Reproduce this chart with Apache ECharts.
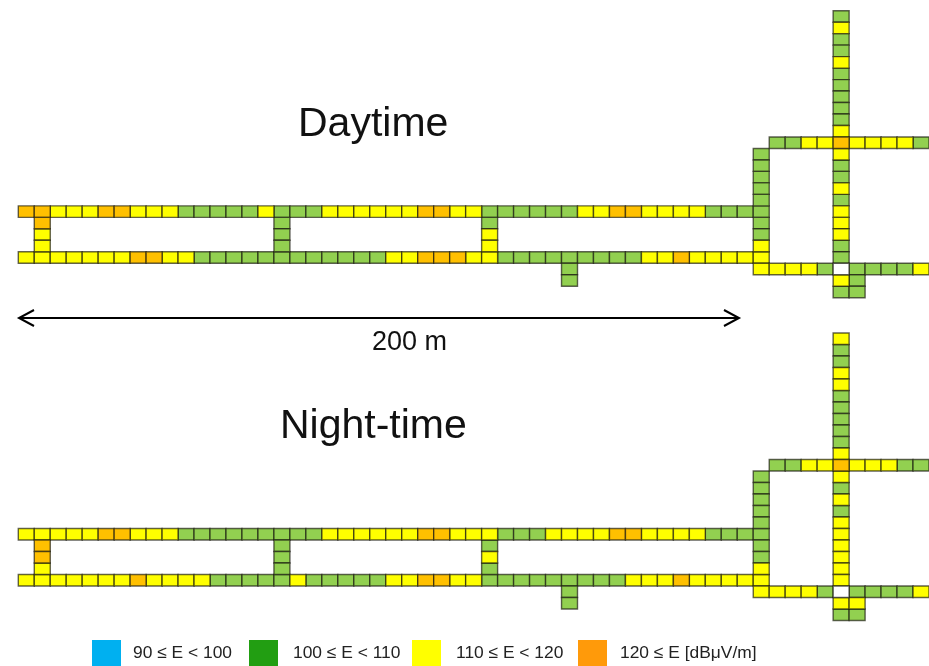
<!DOCTYPE html>
<html>
<head>
<meta charset="utf-8">
<style>html,body{margin:0;padding:0;background:#fff}#c{width:929px;height:666px}</style>
<script src="https://cdn.jsdelivr.net/npm/echarts@6/dist/echarts.min.js"></script>
</head>
<body>
<div id="c"></div>
<script>
// E band read for each cell: G 100-110, Y 110-120, O >=120, W no value
const G = 'G', Y = 'Y', O = 'O', W = 'W';
const bandNames = ['90 ≤ E < 100', '100 ≤ E < 110', '110 ≤ E < 120', '120 ≤ E [dBμV/m]'];
const bandKeys = ['B', G, Y, O];
const cellColors = ['#00B0F0', '#92D050', '#FFFF00', '#FFC000'];
const legendColors = ['#00B0F0', '#229E12', '#FFFF00', '#FF9A0A'];

const dayUpperRoad = [O,O,Y,Y,Y,O,O,Y,Y,Y,G,G,G,G,G,Y,G,G,G,Y,Y,Y,Y,Y,Y,O,O,Y,Y,G,G,G,G,G,G,Y,Y,O,O,Y,Y,Y,Y,G,G,G,G];
const dayLowerRoad = [Y,Y,Y,Y,Y,Y,Y,O,O,Y,Y,G,G,G,G,G,G,G,G,G,G,G,G,Y,Y,O,O,O,Y,Y,G,G,G,G,G,G,G,G,G,Y,Y,O,Y,Y,Y,Y,Y];
const dayLinkA = [O,Y,Y];
const dayLinkB = [G,G,G];
const dayLinkC = [G,Y,Y];
const dayStub = [G,G];
const dayRiser = [G,G,G,G,G,G,G,G,Y,Y,Y];
const dayTower = [G,Y,G,G,Y,G,G,G,G,G,Y,O,Y,G,G,Y,G,Y,Y,Y,G,G,W,Y,G];
const dayTowerSide = [G,G,G];
const dayNorthRoad = [G,G,Y,Y,O,Y,Y,Y,Y,G];
const daySouthRoad = [Y,Y,Y,Y,G,W,G,G,G,G,Y];

const nightUpperRoad = [Y,Y,Y,Y,Y,O,O,Y,Y,Y,G,G,G,G,G,G,G,G,G,Y,Y,Y,Y,Y,Y,O,O,Y,Y,Y,G,G,G,Y,Y,Y,Y,O,O,Y,Y,Y,Y,G,G,G,G];
const nightLowerRoad = [Y,Y,Y,Y,Y,Y,Y,O,Y,Y,Y,Y,G,G,G,G,G,Y,G,G,G,G,G,Y,Y,O,O,Y,Y,G,G,G,G,G,G,G,G,G,Y,Y,Y,O,Y,Y,Y,Y,Y];
const nightLinkA = [O,O,Y];
const nightLinkB = [G,G,G];
const nightLinkC = [G,Y,G];
const nightStub = [G,G];
const nightRiser = [G,G,G,G,G,G,G,G,Y,Y,Y];
const nightTower = [Y,G,G,Y,Y,G,G,G,G,G,Y,O,Y,G,Y,G,Y,Y,Y,Y,Y,Y,W,Y,G];
const nightTowerSide = [G,Y,G];
const nightNorthRoad = [G,G,Y,Y,O,Y,Y,Y,G,G];
const nightSouthRoad = [Y,Y,Y,Y,G,W,G,G,G,G,Y];

const COLS = 57, ROWS = 25;

function buildCells(parts) {
  const m = new Map();
  parts.forEach(([vals, c, r, dc, dr]) => vals.forEach((v, i) => m.set((c + i * dc) + '_' + (r + i * dr), [c + i * dc, r + i * dr, v])));
  return Array.from(m.values());
}
const dayCells = buildCells([
  [dayUpperRoad,0,17,1,0],[dayLowerRoad,0,21,1,0],[dayLinkA,1,18,0,1],[dayLinkB,16,18,0,1],[dayLinkC,29,18,0,1],
  [dayStub,34,22,0,1],[dayRiser,46,12,0,1],[dayTower,51,0,0,1],[dayTowerSide,52,22,0,1],[dayNorthRoad,47,11,1,0],[daySouthRoad,46,22,1,0]
]);
const nightCells = buildCells([
  [nightUpperRoad,0,17,1,0],[nightLowerRoad,0,21,1,0],[nightLinkA,1,18,0,1],[nightLinkB,16,18,0,1],[nightLinkC,29,18,0,1],
  [nightStub,34,22,0,1],[nightRiser,46,12,0,1],[nightTower,51,0,0,1],[nightTowerSide,52,22,0,1],[nightNorthRoad,47,11,1,0],[nightSouthRoad,46,22,1,0]
]);

function cellItem(params, api) {
  const p = api.coord([api.value(0), api.value(1)]);
  const s = api.size([1, 1]);
  return { type: 'rect', shape: { x: p[0] - s[0] / 2, y: p[1] - s[1] / 2, width: s[0], height: s[1] }, style: api.style() };
}
function cellSeries(name, color, grid, cells, key) {
  return {
    type: 'custom', name, coordinateSystem: 'cartesian2d', xAxisIndex: grid, yAxisIndex: grid,
    renderItem: cellItem, silent: true, animation: false, clip: false,
    itemStyle: { color, borderColor: 'rgba(25,25,15,0.68)', borderWidth: 1.4 },
    data: cells.filter(c => c[2] === key).map(c => [c[0], c[1]])
  };
}
const series = [];
[dayCells, nightCells].forEach((cells, g) => {
  bandKeys.forEach((k, i) => series.push(cellSeries(bandNames[i], cellColors[i], g, cells, k)));
  series.push(cellSeries('no value', '#FFFFFF', g, cells, W));
});

const colLabels = Array.from({ length: COLS }, (_, i) => String(i));
const rowLabels = Array.from({ length: ROWS }, (_, i) => String(i));
const hiddenX = g => ({ type: 'category', gridIndex: g, data: colLabels, show: false });
const hiddenY = g => ({ type: 'category', gridIndex: g, data: rowLabels, inverse: true, show: false });
const titleStyle = size => ({ fontFamily: 'Liberation Sans', fontWeight: 'normal', fontSize: size, color: '#111' });
const legendLeft = [92, 249, 412, 578];
const legendTextGap = [7, 10, 10, 8];

const chart = echarts.init(document.getElementById('c'), null, { renderer: 'canvas' });
chart.setOption({
  animation: false,
  backgroundColor: '#fff',
  title: [
    { text: 'Daytime', left: 298, top: 104, padding: 0, textStyle: titleStyle(41) },
    { text: 'Night-time', left: 280, top: 406, padding: 0, textStyle: titleStyle(41) },
    { text: '200 m', left: 372, top: 329, padding: 0, textStyle: titleStyle(27) }
  ],
  grid: [
    { left: 18.3, top: 10.7, width: COLS * 16, height: ROWS * 11.48 },
    { left: 18.3, top: 333, width: COLS * 16, height: ROWS * 11.5 }
  ],
  xAxis: [hiddenX(0), hiddenX(1)],
  yAxis: [hiddenY(0), hiddenY(1)],
  legend: bandNames.map((n, i) => ({
    left: legendLeft[i], top: 640, padding: 0, itemWidth: 29, itemHeight: 26, icon: 'rect', selectedMode: false,
    data: [{ name: n, itemStyle: { color: legendColors[i], borderWidth: 0 } }],
    textStyle: { fontFamily: 'Liberation Sans', fontSize: 17.4, color: '#222', padding: [6, 0, 0, legendTextGap[i]] }
  })),
  graphic: [
    { type: 'line', shape: { x1: 20, y1: 318, x2: 738, y2: 318 }, style: { stroke: '#000', lineWidth: 2 } },
    { type: 'polyline', shape: { points: [[34, 310], [19, 318], [34, 326]] }, style: { stroke: '#000', lineWidth: 2, fill: null } },
    { type: 'polyline', shape: { points: [[724, 310], [739, 318], [724, 326]] }, style: { stroke: '#000', lineWidth: 2, fill: null } }
  ],
  series
});
</script>
</body>
</html>
